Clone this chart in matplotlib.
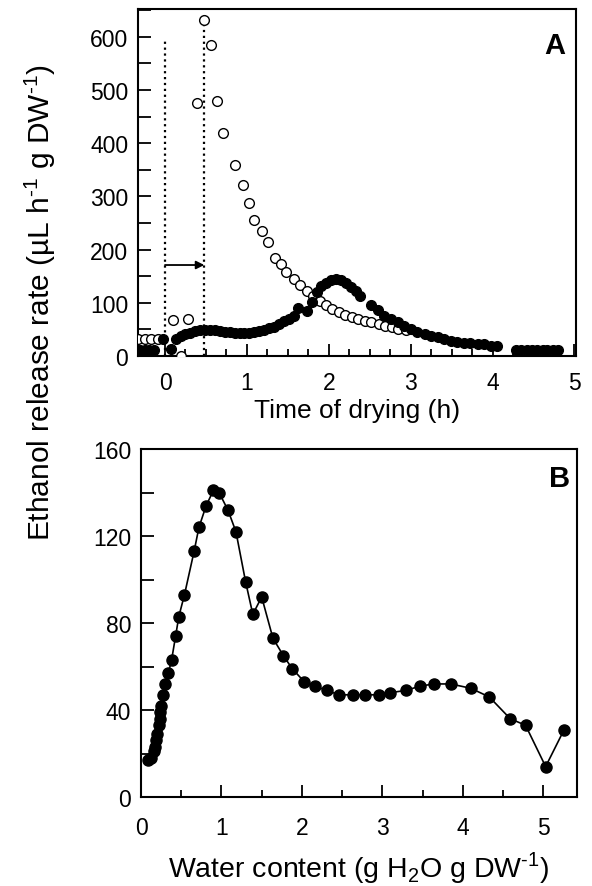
import matplotlib.pyplot as plt
from matplotlib.ticker import MultipleLocator

# panel A: ethanol release vs time of drying
t_open = [-0.33, -0.25, -0.17, -0.09, 0.10, 0.20, 0.28, 0.39, 0.48, 0.56, 0.64, 0.71, 0.85,
          0.95, 1.03, 1.09, 1.18, 1.26, 1.34, 1.42, 1.48, 1.57, 1.65, 1.73, 1.81, 1.89,
          1.97, 2.04, 2.12, 2.20, 2.28, 2.36, 2.44, 2.52, 2.61, 2.69, 2.77, 2.85, 2.94]
v_open = [32, 32, 32, 32, 68, 0, 70, 476, 632, 585, 479, 419, 358,
          322, 288, 256, 234, 215, 185, 172, 157, 145, 134, 123, 113, 104,
          96, 88, 82, 77, 73, 70, 66, 63, 60, 57, 54, 51, 48]

t_fill = [-0.31, -0.25, -0.19, -0.13, -0.02, 0.07, 0.14, 0.19, 0.25, 0.31, 0.37, 0.43,
          0.49, 0.55, 0.61, 0.67, 0.73, 0.79, 0.85, 0.91, 0.97, 1.03, 1.09, 1.15,
          1.21, 1.27, 1.33, 1.39, 1.45, 1.51, 1.57, 1.63, 1.73, 1.79, 1.85, 1.91,
          1.97, 2.03, 2.09, 2.15, 2.21, 2.27, 2.33, 2.38, 2.52, 2.60, 2.68, 2.76,
          2.84, 2.92, 3.00, 3.08, 3.17, 3.25, 3.33, 3.41, 3.49, 3.57, 3.65, 3.73,
          3.82, 3.90, 3.98, 4.06, 4.29, 4.35, 4.42, 4.48, 4.54, 4.61, 4.67, 4.74, 4.80]
v_fill = [12, 12, 12, 12, 32, 14, 32, 37, 42, 44, 47, 49,
          49, 49, 48, 47, 46, 45, 44, 44, 44, 44, 45, 47,
          49, 52, 55, 60, 65, 70, 76, 91, 85, 102, 120, 131,
          138, 143, 145, 142, 137, 130, 122, 113, 95, 86, 76, 70,
          63, 57, 51, 46, 41, 37, 35, 32, 29, 27, 25, 24,
          23, 22, 19, 18, 12, 12, 12, 12, 12, 12, 12, 12, 12]

# panel B: ethanol release vs water content
water = [0.09, 0.13, 0.16, 0.18, 0.19, 0.20, 0.22, 0.23, 0.24, 0.25, 0.27, 0.30, 0.34,
         0.38, 0.43, 0.47, 0.54, 0.66, 0.72, 0.81, 0.90, 0.97, 1.08, 1.18, 1.30, 1.39,
         1.50, 1.64, 1.77, 1.88, 2.03, 2.16, 2.31, 2.46, 2.64, 2.78, 2.96, 3.10, 3.29,
         3.47, 3.64, 3.85, 4.10, 4.33, 4.59, 4.78, 5.03, 5.26]
rate_b = [17, 18, 21, 23, 26, 29, 33, 36, 39, 42, 47, 52, 57,
          63, 74, 83, 93, 113, 124, 134, 141, 140, 132, 122, 99, 84,
          92, 73, 65, 59, 53, 51, 49, 47, 47, 47, 47, 48, 49,
          51, 52, 52, 50, 46, 36, 33, 14, 31]

plt.rcParams['font.family'] = ['Liberation Sans', 'DejaVu Sans']
plt.rcParams['mathtext.fontset'] = 'custom'
plt.rcParams['mathtext.rm'] = 'Liberation Sans'

fig = plt.figure(figsize=(5.92, 8.87), dpi=100)
ax1 = fig.add_axes([0.2331, 0.5975, 0.740, 0.3912])
ax2 = fig.add_axes([0.2382, 0.1003, 0.7365, 0.3923])


def style(ax, xpad):
    for s in ax.spines.values():
        s.set_linewidth(1.5)
    ax.tick_params(which='both', direction='in', labelsize=16.5, width=1.3)
    ax.tick_params(which='major', length=9)
    ax.tick_params(axis='x', which='minor', length=5)
    ax.tick_params(axis='y', which='minor', length=9)
    ax.tick_params(axis='x', pad=xpad)
    ax.tick_params(axis='y', pad=7)


ax1.plot(t_open, v_open, 'o', mfc='white', mec='black', mew=1.0, ms=7, zorder=3)
ax1.plot(t_fill, v_fill, 'o', color='black', ms=7, zorder=4)
ax1.vlines(0, 0, 597, colors='black', linestyles=':', lw=1.6)
ax1.vlines(0.48, 0, 625, colors='black', linestyles=':', lw=1.6)
ax1.annotate('', xy=(0.48, 171), xytext=(0, 171),
             arrowprops=dict(arrowstyle='-|>', color='black', lw=1.3, mutation_scale=12,
                             shrinkA=0, shrinkB=0))
ax1.set_xlim(-0.33, 5.02)
ax1.set_ylim(0, 652)
ax1.xaxis.set_major_locator(MultipleLocator(1))
ax1.xaxis.set_minor_locator(MultipleLocator(0.25))
ax1.yaxis.set_major_locator(MultipleLocator(100))
ax1.yaxis.set_minor_locator(MultipleLocator(50))
style(ax1, 11)
ax1.set_xlabel('Time of drying (h)', fontsize=19, labelpad=3)
ax1.text(0.952, 0.895, 'A', transform=ax1.transAxes, ha='center', va='center',
         fontsize=21, fontweight='bold')

ax2.plot(water, rate_b, '-o', color='black', lw=1.2, ms=8)
ax2.set_xlim(0, 5.42)
ax2.set_ylim(0, 160)
ax2.xaxis.set_major_locator(MultipleLocator(1))
ax2.xaxis.set_minor_locator(MultipleLocator(0.5))
ax2.yaxis.set_major_locator(MultipleLocator(40))
ax2.yaxis.set_minor_locator(MultipleLocator(20))
style(ax2, 14)
ax2.set_xlabel(r'Water content (g H$_2$O g DW$^{\text{-1}}$)', fontsize=20.5, labelpad=7)
ax2.text(0.959, 0.917, 'B', transform=ax2.transAxes, ha='center', va='center',
         fontsize=21, fontweight='bold')

fig.text(0.068, 1 - 303 / 887,
         'Ethanol release rate (\u00b5L h$^{\\text{-1}}$ g DW$^{\\text{-1}}$)',
         rotation=90, ha='center', va='center', fontsize=21.5)

fig.savefig('out.png', dpi=100)
